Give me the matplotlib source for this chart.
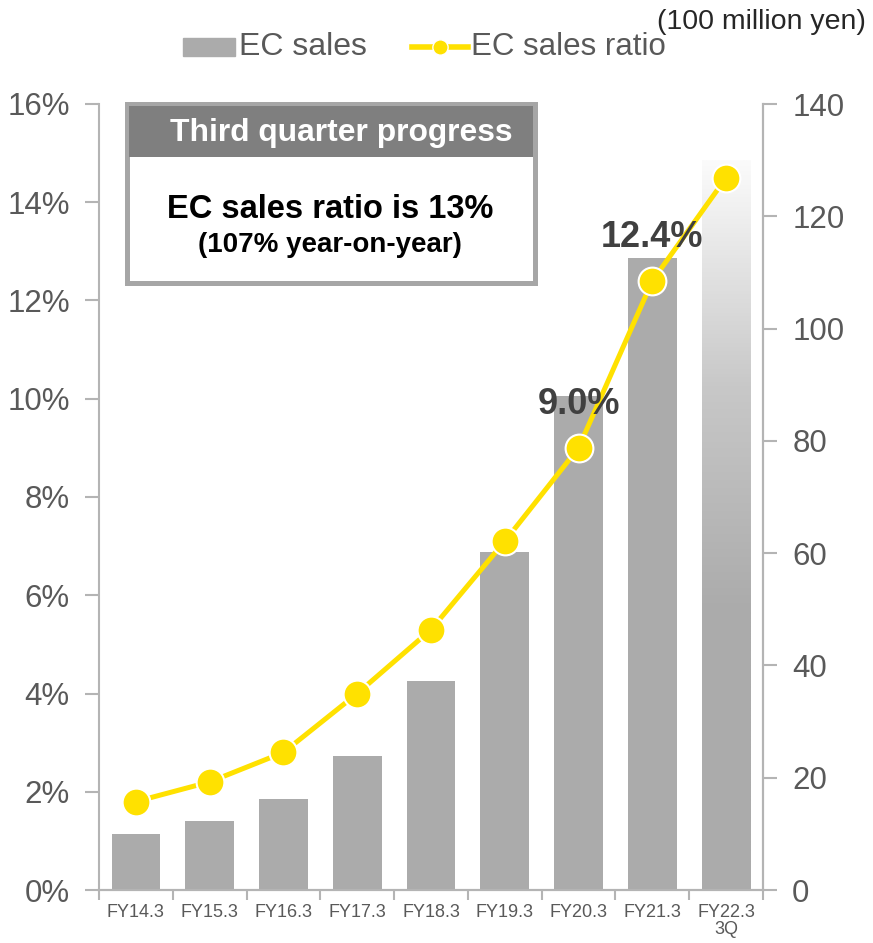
import matplotlib.pyplot as plt
import numpy as np
from matplotlib.patches import Rectangle
from matplotlib.lines import Line2D
from matplotlib.colors import LinearSegmentedColormap

plt.rcParams['font.family'] = ['Liberation Sans', 'DejaVu Sans']

# data
years = ["FY14.3", "FY15.3", "FY16.3", "FY17.3", "FY18.3",
         "FY19.3", "FY20.3", "FY21.3", "FY22.3\n3Q"]
ec_sales = [10.0, 12.3, 16.2, 23.9, 37.2, 60.2, 88.0, 112.6]   # 100 million yen
fy22_outlook = 130.0
fy22_3q = 49.5
ec_ratio = [1.8, 2.2, 2.8, 4.0, 5.3, 7.1, 9.0, 12.4, 14.5]     # %
labelled = {6: "9.0%", 7: "12.4%"}

W, H = 873, 943
fig = plt.figure(figsize=(W / 100, H / 100), dpi=100)
ax = fig.add_axes([99 / W, 1 - 890 / H, (763 - 99) / W, (890 - 104) / H])
ax2 = ax.twinx()

gray = "#ababab"
spine = "#b4b4b4"
txt = "#595959"
yellow = "#ffe100"

x = np.arange(len(years))
bw = 0.66

# bars (right axis)
ax.bar(x[:len(ec_sales)], ec_sales, width=bw, color=gray, zorder=2)

# last bar: outlook fading out above the solid 3Q part
grad = np.linspace(0, 1, 256).reshape(-1, 1)
grad = np.clip((grad - fy22_3q / fy22_outlook) / (1 - fy22_3q / fy22_outlook), 0, 1)
fade = LinearSegmentedColormap.from_list("fade", [gray, "#c8c8c8", "#fbfbfb"])
ax.imshow(grad, cmap=fade, origin="lower", aspect="auto",
          extent=[x[-1] - bw / 2, x[-1] + bw / 2, 0, fy22_outlook], zorder=2)
ax.bar(x[-1], fy22_3q, width=bw, color=gray, zorder=2)

ax.set_xlim(-0.5, len(years) - 0.5)
ax.set_ylim(0, 140)
ax.set_yticks(range(0, 141, 20))
ax.yaxis.tick_right()

# ratio line (left axis)
ax2.plot(x, ec_ratio, color=yellow, lw=3.6, marker="o", ms=20,
         mfc=yellow, mec="white", mew=1.5, zorder=5)
ax2.set_ylim(0, 16)
ax2.set_yticks(range(0, 17, 2))
ax2.set_yticklabels([f"{v}%" for v in range(0, 17, 2)])
ax2.yaxis.tick_left()

for i, s in labelled.items():
    ax2.annotate(s, (x[i], ec_ratio[i]), xytext=(0, 31), textcoords="offset points",
                 ha="center", va="center", fontsize=26, fontweight="bold",
                 color="#404040", zorder=6)

# axes styling
for a in (ax, ax2):
    a.spines["top"].set_visible(False)
    for k in ("left", "right", "bottom"):
        a.spines[k].set_color(spine)
        a.spines[k].set_linewidth(1.5)
ax.spines["left"].set_visible(False)

ax.set_xticks(x)
ax.set_xticklabels(years, fontsize=13, color=txt, linespacing=1.0)
ax.set_xticks(np.arange(-0.5, len(years), 1), minor=True)
ax.tick_params(axis="x", which="major", length=0, pad=10)
ax.tick_params(axis="x", which="minor", length=7, width=1.5, color=spine)
for a in (ax, ax2):
    a.tick_params(axis="y", length=10, width=1.5, color=spine, labelsize=22.5,
                  labelcolor=txt, pad=11)
ax2.set_zorder(ax.get_zorder() + 1)
ax2.patch.set_visible(False)

# legend row
def fx(px):
    return px / W

def fy(py):
    return 1 - py / H

fig.add_artist(Rectangle((fx(183), fy(56)), fx(235) - fx(183), fy(38) - fy(56),
                         color=gray, transform=fig.transFigure))
fig.text(fx(239), fy(47), "EC sales", fontsize=23, color=txt, va="center")
fig.add_artist(Line2D([fx(412), fx(468)], [fy(47), fy(47)], color=yellow, lw=4,
                      transform=fig.transFigure))
fig.add_artist(Line2D([fx(440)], [fy(47)], color=yellow, marker="o", ms=11,
                      mec="white", mew=1, transform=fig.transFigure))
fig.text(fx(471), fy(47), "EC sales ratio", fontsize=22.5, color=txt, va="center")
fig.text(fx(866), fy(22), "(100 million yen)", fontsize=20.5, color="#262626",
         ha="right", va="center")

# progress box
fig.add_artist(Rectangle((fx(126.5), fy(282.5)), fx(534.5) - fx(126.5),
                         fy(103.5) - fy(282.5), facecolor="white",
                         edgecolor="#a6a6a6", lw=3.6, transform=fig.transFigure,
                         zorder=10))
fig.add_artist(Rectangle((fx(129), fy(157)), fx(533) - fx(129), fy(106) - fy(157),
                         facecolor="#7f7f7f", edgecolor="none",
                         transform=fig.transFigure, zorder=11))
fig.text(fx(341), fy(133), "Third quarter progress", fontsize=22.9, fontweight="bold",
         color="white", ha="center", va="center", zorder=12)
fig.text(fx(330), fy(209), "EC sales ratio is 13%", fontsize=23.5, fontweight="bold",
         color="black", ha="center", va="center", zorder=12)
fig.text(fx(330), fy(245), "(107% year-on-year)", fontsize=20, fontweight="bold",
         color="black", ha="center", va="center", zorder=12)

fig.savefig("out.png", dpi=100)
